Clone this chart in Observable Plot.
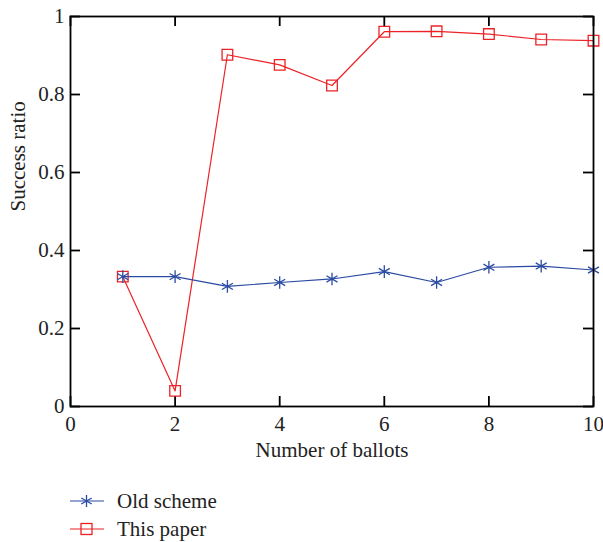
<!DOCTYPE html>
<html>
<head>
<meta charset="utf-8">
<script src="https://cdn.jsdelivr.net/npm/d3@7"></script>
<script src="https://cdn.jsdelivr.net/npm/@observablehq/plot@0.6"></script>
<style>
  html, body { margin: 0; padding: 0; background: #fff; }
  body { width: 603px; font-family: "Liberation Serif", "DejaVu Serif", serif; }
  #legend { margin-left: 70px; margin-top: 17px; font-size: 21px; color: #222; }
  .item { display: flex; align-items: center; height: 28px; }
  .item svg { margin-right: 13px; }
</style>
</head>
<body>
<div id="chart"></div>
<div id="legend"></div>
<script>
const ballots = [1, 2, 3, 4, 5, 6, 7, 8, 9, 10];
const oldScheme = [0.333, 0.333, 0.308, 0.318, 0.327, 0.346, 0.318, 0.357, 0.360, 0.350];
const thisPaper = [0.333, 0.040, 0.902, 0.876, 0.823, 0.961, 0.962, 0.955, 0.941, 0.938];
const seriesNames = ["Old scheme", "This paper"];
const seriesColors = ["#2b4ba3", "#ec2227"];
const seriesSymbols = ["asterisk", "square"];
const xTicks = [0, 2, 4, 6, 8, 10];
const yTicks = [0, 0.2, 0.4, 0.6, 0.8, 1];

const oldData = ballots.map((b, i) => ({x: b, y: oldScheme[i]}));
const newData = ballots.map((b, i) => ({x: b, y: thisPaper[i]}));

const W = 603, H = 470, ML = 70, MR = 10, MT = 16, MB = 64;
const PW = W - ML - MR, PH = H - MT - MB, TL = 10;

const plot = Plot.plot({
  width: W,
  height: H,
  marginLeft: ML,
  marginRight: MR,
  marginTop: MT,
  marginBottom: MB,
  style: {fontFamily: "Liberation Serif, DejaVu Serif, serif", fontSize: "21px", color: "#222", background: "#fff"},
  x: {domain: [0, 10]},
  y: {domain: [0, 1]},
  marks: [
    Plot.axisX({anchor: "bottom", ticks: xTicks, tickSize: 0, tickPadding: 10, tickFormat: d => d, label: null, fontSize: 21}),
    Plot.axisY({anchor: "left", ticks: yTicks, tickSize: 0, tickPadding: 6, tickFormat: d => d, label: null, fontSize: 21}),
    Plot.ruleX(xTicks, {x: d => d, insetTop: PH - TL, stroke: "#000", strokeWidth: 1.8}),
    Plot.ruleX(xTicks, {x: d => d, insetBottom: PH - TL, stroke: "#000", strokeWidth: 1.8}),
    Plot.ruleY(yTicks, {y: d => d, insetRight: PW - TL, stroke: "#000", strokeWidth: 1.8}),
    Plot.ruleY(yTicks, {y: d => d, insetLeft: PW - TL, stroke: "#000", strokeWidth: 1.8}),
    Plot.text(["Number of ballots"], {frameAnchor: "bottom", dy: 50, fontSize: 21}),
    Plot.text(["Success ratio"], {frameAnchor: "left", dx: -52, rotate: -90, fontSize: 21}),
    Plot.line(newData, {x: "x", y: "y", stroke: seriesColors[1], strokeWidth: 1.2}),
    Plot.dot(newData, {x: "x", y: "y", symbol: seriesSymbols[1], stroke: seriesColors[1], fill: "none", r: 6, strokeWidth: 1.3}),
    Plot.line(oldData, {x: "x", y: "y", stroke: seriesColors[0], strokeWidth: 1.2}),
    Plot.dot(oldData, {x: "x", y: "y", symbol: seriesSymbols[0], stroke: seriesColors[0], r: 6, strokeWidth: 1.3}),
    Plot.frame({stroke: "#000", strokeWidth: 1.8})
  ]
});
document.getElementById("chart").appendChild(plot);

const legend = document.getElementById("legend");
seriesNames.forEach((name, i) => {
  const item = document.createElement("div");
  item.className = "item";
  const sym = seriesSymbols[i] === "square"
    ? `<rect x="11" y="4.5" width="11" height="11" fill="none" stroke="${seriesColors[i]}" stroke-width="1.3"/>`
    : `<path d="M16.5,4V16M11.3,7L21.7,13M11.3,13L21.7,7" stroke="${seriesColors[i]}" stroke-width="1.3"/>`;
  item.innerHTML = `<svg width="34" height="20"><line x1="0" x2="34" y1="10" y2="10" stroke="${seriesColors[i]}" stroke-width="1.2"/>${sym}</svg><span>${name}</span>`;
  legend.appendChild(item);
});
</script>
</body>
</html>
